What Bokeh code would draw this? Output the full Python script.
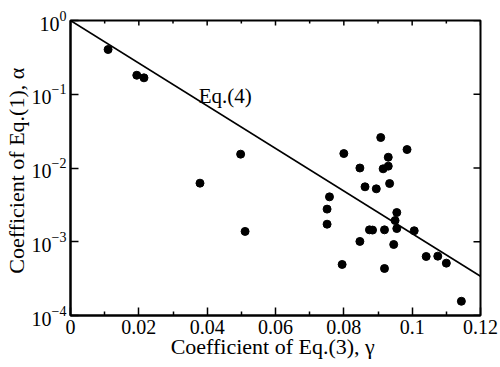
import math
from bokeh.plotting import figure
from bokeh.models import Range1d, FixedTicker, CustomJSTickFormatter, LogTickFormatter, Label
from bokeh.embed import file_html
from bokeh.resources import INLINE

# Data
gamma = [0.0110, 0.0194, 0.0215, 0.0379, 0.0498, 0.0511, 0.0758, 0.0751, 0.0751, 0.0800,
         0.0795, 0.0847, 0.0862, 0.0847, 0.0875, 0.0884, 0.0895, 0.0908, 0.0915, 0.0930,
         0.0930, 0.0934, 0.0919, 0.0919, 0.0955, 0.0950, 0.0955, 0.0946, 0.0985, 0.1006,
         0.1041, 0.1075, 0.1100, 0.1144]
alpha = [0.404, 0.181, 0.167, 0.00623, 0.0154, 0.00138, 0.00406, 0.00277, 0.00173, 0.0157,
         0.000492, 0.0100, 0.00556, 0.00101, 0.00145, 0.00144, 0.00522, 0.0259, 0.00975, 0.0106,
         0.0140, 0.00616, 0.00145, 0.000434, 0.00249, 0.00194, 0.00151, 0.000918, 0.0178, 0.00141,
         0.000631, 0.000638, 0.000513, 0.000156]

eq4_gamma = [0.0, 0.12]
eq4_alpha = [1.0, 3.4e-4]
eq4_label = "Eq.(4)"
eq4_label_pos = (0.0375, 0.096)

x_ticks = [0.0, 0.02, 0.04, 0.06, 0.08, 0.10, 0.12]
x_minor = [0.01, 0.03, 0.05, 0.07, 0.09, 0.11]
y_ticks = [1e-4, 1e-3, 1e-2, 1e-1, 1.0]

x_label = "Coefficient of Eq.(3),  γ"
y_label = "Coefficient of Eq.(1),  α"

FONT = "Liberation Serif"
X_MIN, X_MAX = 0.0, 0.12
Y_MIN, Y_MAX = 1e-4, 1.0

p = figure(width=500, height=367, x_axis_type="linear", y_axis_type="log",
           x_range=Range1d(X_MIN, X_MAX), y_range=Range1d(Y_MIN, Y_MAX),
           output_backend="svg", toolbar_location=None,
           min_border_left=70, min_border_right=20, min_border_top=20, min_border_bottom=52)

p.grid.visible = False
p.outline_line_color = "black"
p.outline_line_width = 2
p.background_fill_color = "white"
p.border_fill_color = "white"

xa = p.xaxis[0]
xa.ticker = FixedTicker(ticks=x_ticks, minor_ticks=x_minor)
xa.formatter = CustomJSTickFormatter(code="return tick.toFixed(2).replace(/0+$/,'').replace(/\\.$/,'');")
ya = p.yaxis[0]
ya.ticker = FixedTicker(ticks=y_ticks)
ya.formatter = LogTickFormatter()

for ax in (xa, ya):
    ax.axis_line_width = 2
    ax.axis_line_color = "black"
    ax.major_tick_in = 8
    ax.major_tick_out = 0
    ax.minor_tick_in = 4
    ax.minor_tick_out = 0
    ax.major_tick_line_width = 1.5
    ax.minor_tick_line_width = 1.5
    ax.major_label_text_font = FONT
    ax.major_label_text_color = "black"
    ax.axis_label_text_font = FONT
    ax.axis_label_text_font_size = "22px"
    ax.axis_label_text_font_style = "normal"
    ax.axis_label_text_color = "black"
xa.major_label_text_font_size = "20px"
ya.major_label_text_font_size = "20px"
ya.minor_tick_line_color = None
xa.major_label_standoff = 4
ya.major_label_standoff = 4
xa.axis_label = x_label
ya.axis_label = y_label
xa.axis_label_standoff = -3
ya.axis_label_standoff = 0

# inward tick marks on the top and right edges of the frame
top_x = sorted(x_ticks + x_minor)
top_len = [5 if t in x_ticks else 3 for t in top_x]
p.ray(x=top_x, y=[Y_MAX] * len(top_x), length=top_len, length_units="screen",
      angle=-math.pi / 2, line_color="black", line_width=1.5)
p.ray(x=[X_MAX] * len(y_ticks), y=y_ticks, length=7, length_units="screen",
      angle=math.pi, line_color="black", line_width=1.5)

p.line(eq4_gamma, eq4_alpha, line_color="black", line_width=1.6)
p.scatter(gamma, alpha, size=8, marker="circle", fill_color="black", line_color="black")

p.add_layout(Label(x=eq4_label_pos[0], y=eq4_label_pos[1], text=eq4_label,
                   text_font=FONT, text_font_size="21px", text_color="black",
                   text_baseline="alphabetic"))

open("out.html", "w").write(file_html(p, INLINE))
